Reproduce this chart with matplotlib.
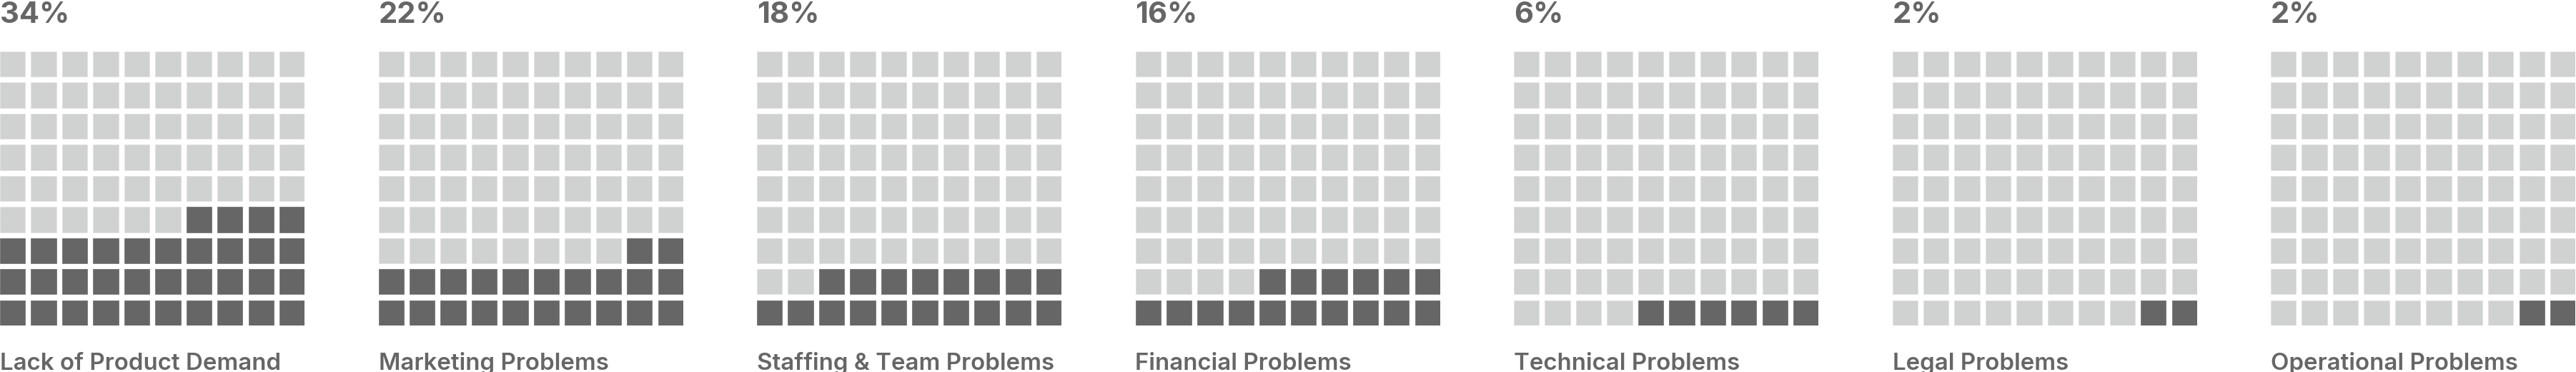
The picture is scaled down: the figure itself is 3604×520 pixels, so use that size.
import matplotlib
matplotlib.use("Agg")
import matplotlib.pyplot as plt
from matplotlib.patches import Rectangle

# donnees du graphique
categories = ["Lack of Product Demand", "Marketing Problems", "Staffing & Team Problems",
              "Financial Problems", "Technical Problems", "Legal Problems", "Operational Problems"]
percentages = [34, 22, 18, 16, 6, 2, 2]
pct_labels = ["34%", "22%", "18%", "16%", "6%", "2%", "2%"]

n_rows = 9
n_cols = 10

dark = "#666666"
light = "#d0d2d1"
edge = "#e2e2e2"
text_color = "#666666"

plt.rcParams["font.family"] = ["Inter", "DejaVu Sans"]

W, H = 3604, 520
fig = plt.figure(figsize=(W / 100, H / 100), dpi=100)

cell = 35.3
pitch = 43.45
chart_step = 529.5
grid_w = (n_cols - 1) * pitch + cell
grid_h = (n_rows - 1) * pitch + cell
grid_top = 72

for k, (cat, val, lab) in enumerate(zip(categories, percentages, pct_labels)):
    x0 = k * chart_step
    ax = fig.add_axes([x0 / W, (H - grid_top - grid_h) / H, grid_w / W, grid_h / H])
    ax.set_xlim(0, grid_w)
    ax.set_ylim(0, grid_h)
    ax.axis("off")
    # remplissage : du bas vers le haut, de droite a gauche
    for n in range(n_rows * n_cols):
        row = n // n_cols
        col = n_cols - 1 - n % n_cols
        color = dark if n < val else light
        ax.add_patch(Rectangle((col * pitch, row * pitch), cell, cell,
                               facecolor=color, edgecolor=edge if n >= val else "#777777",
                               linewidth=0.6))
    fig.text(x0 / W, (H - 32) / H, lab, fontsize=30, fontweight="bold",
             color=text_color, va="baseline", ha="left")
    fig.text(x0 / W, (H - 517) / H, cat, fontsize=23.8, fontweight="semibold",
             color=text_color, va="baseline", ha="left")

fig.savefig("out.png", dpi=100, facecolor="white")
